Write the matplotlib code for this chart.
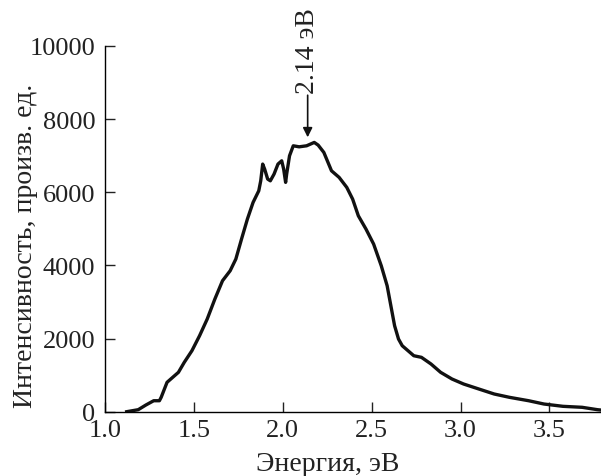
import matplotlib
matplotlib.use("Agg")
import matplotlib.pyplot as plt

energy = [1.122, 1.187, 1.230, 1.274, 1.306, 1.316, 1.349, 1.370, 1.413, 1.446,
          1.489, 1.532, 1.575, 1.618, 1.661, 1.704, 1.736, 1.768, 1.801, 1.833,
          1.865, 1.876, 1.887, 1.898, 1.915, 1.930, 1.951, 1.973, 1.994, 2.005,
          2.016, 2.022, 2.038, 2.059, 2.092, 2.134, 2.177, 2.199, 2.231, 2.274,
          2.317, 2.360, 2.393, 2.425, 2.468, 2.511, 2.554, 2.587, 2.608, 2.629,
          2.651, 2.672, 2.737, 2.780, 2.834, 2.888, 2.952, 3.017, 3.103, 3.189,
          3.275, 3.383, 3.469, 3.576, 3.684, 3.770, 3.80]
intensity = [0, 55, 183, 300, 300, 393, 803, 893, 1076, 1350,
             1667, 2077, 2533, 3079, 3579, 3852, 4172, 4719, 5265, 5721,
             6038, 6311, 6768, 6631, 6358, 6311, 6495, 6768, 6858, 6631,
             6268, 6500, 6995, 7268, 7240, 7268, 7360, 7287, 7087, 6585,
             6404, 6131, 5811, 5355, 4992, 4582, 3989, 3443, 2896, 2350,
             1986, 1803, 1530, 1486, 1303, 1076, 893, 757, 620, 484,
             393, 300, 210, 147, 120, 55, 40]

x_ticks = [1.0, 1.5, 2.0, 2.5, 3.0, 3.5]
x_tick_labels = ["1.0", "1.5", "2.0", "2.5", "3.0", "3.5"]
y_ticks = [0, 2000, 4000, 6000, 8000, 10000]
y_tick_labels = ["0", "2000", "4000", "6000", "8000", "10000"]
peak_energy = 2.14
peak_label = "2.14 эВ"

plt.rcParams['font.family'] = ['Liberation Serif', 'DejaVu Serif']

fig = plt.figure(figsize=(6.01, 4.77), dpi=100)
ax = fig.add_axes([0.1747, 0.1348, 0.8253, 0.767])
ax.plot(energy, intensity, color='#111111', lw=2.4, solid_joinstyle='round')
ax.set_xlim(1.0, 3.79)
ax.set_ylim(0, 10000)
ax.set_xticks(x_ticks)
ax.set_xticklabels(x_tick_labels)
ax.set_yticks(y_ticks)
ax.set_yticklabels(y_tick_labels)
for s in ['top', 'right']:
    ax.spines[s].set_visible(False)
for s in ['left', 'bottom']:
    ax.spines[s].set_linewidth(1.0)
ax.tick_params(direction='in', length=7, width=1.0, labelsize=19, colors='#222222')
ax.tick_params(axis='x', pad=5)
ax.tick_params(axis='y', pad=7)
ax.set_xlabel("Энергия, эВ", fontsize=20, color='#222222')
ax.set_ylabel("Интенсивность, произв. ед.", fontsize=20, color='#222222')
ax.xaxis.set_label_coords(0.4496, -0.108)
ax.yaxis.set_label_coords(-0.136, 0.456)

ax.annotate("", xy=(peak_energy, 7500), xytext=(peak_energy, 8650),
            arrowprops=dict(arrowstyle='-|>', color='#111111', lw=1.2,
                            mutation_scale=14, shrinkA=0, shrinkB=0),
            annotation_clip=False)
ax.text(peak_energy, 8720, peak_label, rotation=90, ha='center', va='bottom',
        fontsize=20, color='#222222', clip_on=False)

fig.savefig("out.png", dpi=100)
